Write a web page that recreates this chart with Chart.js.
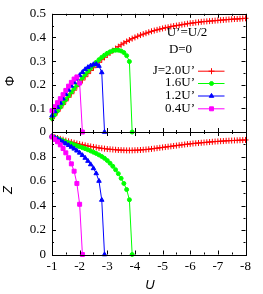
<!DOCTYPE html>
<html>
<head>
<meta charset="utf-8">
<script src="https://cdn.jsdelivr.net/npm/chart.js@4.4.1/dist/chart.umd.min.js"></script>
<style>
  body { margin: 0; background: #fff; }
  #wrap { position: relative; width: 263px; height: 294px; }
  canvas { position: absolute; left: 0; top: 0; }
</style>
</head>
<body>
<div id="wrap">
  <canvas id="phiChart" width="263" height="294"></canvas>
  <canvas id="zChart" width="263" height="294"></canvas>
</div>
<script>
// U grid for each curve
const uRed = [-1, -1.1, -1.2, -1.3, -1.4, -1.5, -1.6, -1.7, -1.8, -1.9,
  -2, -2.1, -2.2, -2.3, -2.4, -2.5, -2.6, -2.7, -2.8, -2.9,
  -3, -3.1, -3.2, -3.3, -3.4, -3.5, -3.6, -3.7, -3.8, -3.9,
  -4, -4.1, -4.2, -4.3, -4.4, -4.5, -4.6, -4.7, -4.8, -4.9,
  -5, -5.1, -5.2, -5.3, -5.4, -5.5, -5.6, -5.7, -5.8, -5.9,
  -6, -6.1, -6.2, -6.3, -6.4, -6.5, -6.6, -6.7, -6.8, -6.9,
  -7, -7.1, -7.2, -7.3, -7.4, -7.5, -7.6, -7.7, -7.8, -7.9, -8];
const uGreen = [-1, -1.1, -1.2, -1.3, -1.4, -1.5, -1.6, -1.7, -1.8, -1.9,
  -2, -2.1, -2.2, -2.3, -2.4, -2.5, -2.6, -2.7, -2.8, -2.9,
  -3, -3.1, -3.2, -3.3, -3.4, -3.5, -3.6, -3.7, -3.8, -3.9];
const uBlue = [-1, -1.1, -1.2, -1.3, -1.4, -1.5, -1.6, -1.7, -1.8, -1.9,
  -2, -2.1, -2.2, -2.3, -2.4, -2.5, -2.6, -2.7, -2.8, -2.9];
const uMagenta = [-1, -1.1, -1.2, -1.3, -1.4, -1.5, -1.6, -1.7, -1.8, -1.9, -2, -2.1];

// order parameter Phi
const phiRed = [0.057, 0.072, 0.087, 0.102, 0.117, 0.132, 0.147, 0.162, 0.177, 0.192,
  0.206, 0.220, 0.234, 0.247, 0.260, 0.272, 0.284, 0.295, 0.306, 0.316,
  0.326, 0.335, 0.344, 0.353, 0.361, 0.369, 0.376, 0.383, 0.389, 0.395,
  0.400, 0.405, 0.410, 0.414, 0.418, 0.422, 0.426, 0.429, 0.432, 0.435,
  0.438, 0.441, 0.443, 0.446, 0.448, 0.450, 0.452, 0.454, 0.456, 0.458,
  0.460, 0.461, 0.463, 0.464, 0.466, 0.467, 0.468, 0.469, 0.470, 0.471,
  0.472, 0.473, 0.474, 0.475, 0.476, 0.477, 0.478, 0.478, 0.479, 0.480, 0.481];
const phiGreen = [0.057, 0.073, 0.089, 0.105, 0.121, 0.137, 0.153, 0.169, 0.184, 0.199,
  0.214, 0.229, 0.243, 0.257, 0.270, 0.283, 0.295, 0.306, 0.316, 0.325,
  0.333, 0.339, 0.344, 0.346, 0.346, 0.343, 0.336, 0.323, 0.298, 0];
const phiBlue = [0.069, 0.087, 0.105, 0.123, 0.141, 0.160, 0.178, 0.195, 0.210, 0.225,
  0.240, 0.253, 0.265, 0.274, 0.281, 0.286, 0.287, 0.279, 0.252, 0];
const phiMagenta = [0.090, 0.107, 0.124, 0.141, 0.158, 0.176, 0.194, 0.210, 0.224, 0.233, 0.207, 0];

// quasiparticle weight Z
const zRed = [0.965, 0.958, 0.951, 0.944, 0.937, 0.930, 0.924, 0.918, 0.912, 0.906,
  0.901, 0.896, 0.891, 0.886, 0.882, 0.878, 0.874, 0.870, 0.867, 0.864,
  0.861, 0.859, 0.857, 0.855, 0.853, 0.852, 0.851, 0.850, 0.850, 0.850,
  0.851, 0.852, 0.853, 0.855, 0.857, 0.859, 0.862, 0.865, 0.868, 0.871,
  0.874, 0.877, 0.880, 0.883, 0.886, 0.889, 0.892, 0.895, 0.898, 0.901,
  0.903, 0.906, 0.908, 0.910, 0.912, 0.914, 0.916, 0.918, 0.920, 0.922,
  0.923, 0.925, 0.926, 0.928, 0.929, 0.930, 0.931, 0.932, 0.933, 0.934, 0.935];
const zGreen = [0.965, 0.956, 0.947, 0.938, 0.929, 0.920, 0.912, 0.904, 0.896, 0.888,
  0.880, 0.872, 0.864, 0.855, 0.845, 0.835, 0.825, 0.813, 0.800, 0.785,
  0.767, 0.745, 0.720, 0.692, 0.660, 0.622, 0.580, 0.530, 0.447, 0];
const zBlue = [0.965, 0.954, 0.943, 0.931, 0.918, 0.905, 0.892, 0.878, 0.863, 0.847,
  0.830, 0.810, 0.788, 0.763, 0.735, 0.703, 0.662, 0.600, 0.445, 0];
const zMagenta = [0.960, 0.940, 0.920, 0.895, 0.865, 0.830, 0.790, 0.740, 0.680, 0.580, 0.410, 0];

const xTicks = [-1, -2, -3, -4, -5, -6, -7, -8];
const legendLabels = ["J=2.0U\u2019", "1.6U\u2019", "1.2U\u2019", "0.4U\u2019"];

const serif = "'Liberation Serif', 'DejaVu Serif', serif";
const sans = "'Liberation Sans', Arial, sans-serif";

const series = [
  { color: "#ff0000", style: "cross", radius: 3, u: uRed },
  { color: "#00ff00", style: "circle", radius: 2, u: uGreen },
  { color: "#0000ff", style: "triangle", radius: 2.6, u: uBlue },
  { color: "#ff00ff", style: "rect", radius: 2.8, u: uMagenta },
];

function pts(u, v) {
  return u.map((x, i) => ({ x: x, y: v[i] }));
}

function makeSets(values) {
  return series.map((s, i) => ({
    label: legendLabels[i],
    data: pts(s.u, values[i]),
    borderColor: s.color,
    backgroundColor: s.color,
    pointBorderColor: s.color,
    pointBackgroundColor: s.color,
    pointStyle: s.style,
    pointRadius: s.radius,
    pointBorderWidth: 1,
    borderWidth: 1,
    tension: 0,
    clip: false,
    order: 4 - i,
  }));
}

// gnuplot-like inward ticks and frame
const frameTicks = {
  id: "frameTicks",
  afterDraw(chart, args, opts) {
    const { ctx, chartArea: a } = chart;
    const x = chart.scales.x, y = chart.scales.y;
    ctx.save();
    ctx.strokeStyle = "#000";
    ctx.lineWidth = 1;
    ctx.beginPath();
    for (let i = 0; i <= 14; i++) {
      const v = -1 - i * 0.5;
      const px = Math.round(x.getPixelForValue(v)) + 0.5;
      const len = i % 2 === 0 ? 4 : 2;
      ctx.moveTo(px, a.bottom); ctx.lineTo(px, a.bottom - len);
      ctx.moveTo(px, a.top); ctx.lineTo(px, a.top + len);
    }
    const n = Math.round((y.max - y.min) / opts.yMinor);
    for (let i = 0; i <= n; i++) {
      const v = y.min + i * opts.yMinor;
      const py = Math.round(y.getPixelForValue(v)) + 0.5;
      const len = i % 2 === 0 ? 4 : 2;
      ctx.moveTo(a.left, py); ctx.lineTo(a.left + len, py);
      ctx.moveTo(a.right, py); ctx.lineTo(a.right - len, py);
    }
    ctx.stroke();
    ctx.strokeRect(Math.round(a.left) + 0.5, Math.round(a.top) + 0.5,
      Math.round(a.right - a.left), Math.round(a.bottom - a.top));
    ctx.restore();
  },
};

// axis titles, legend and notes
const texts = {
  id: "texts",
  afterDraw(chart, args, opts) {
    const ctx = chart.ctx;
    ctx.save();
    ctx.fillStyle = "#000";
    ctx.textBaseline = "middle";
    (opts.titles || []).forEach((t) => {
      ctx.save();
      ctx.font = t.font;
      ctx.textAlign = "center";
      ctx.translate(t.x, t.y);
      if (t.rot) ctx.rotate(-Math.PI / 2);
      ctx.fillText(t.text, 0, 0);
      ctx.restore();
    });
    if (opts.legend) {
      ctx.font = "13px " + serif;
      ctx.textAlign = "center";
      ctx.fillText("U\u2019=U/2", 187, 33);
      ctx.fillText("D=0", 180.5, 49.5);
      const rows = [70.7, 83, 95.5, 108.3];
      series.forEach((s, i) => {
        ctx.textAlign = "right";
        ctx.fillStyle = "#000";
        ctx.fillText(legendLabels[i], 195, rows[i]);
        ctx.strokeStyle = s.color;
        ctx.fillStyle = s.color;
        ctx.lineWidth = 1;
        ctx.beginPath();
        ctx.moveTo(198, rows[i] + 0.5);
        ctx.lineTo(224.5, rows[i] + 0.5);
        ctx.stroke();
        Chart.helpers.drawPoint(ctx, { pointStyle: s.style, radius: s.radius, rotation: 0, borderWidth: 1 }, 211.5, rows[i] + 0.5);
      });
    }
    ctx.restore();
  },
};

function xScale(show) {
  const s = {
    type: "linear",
    min: -8,
    max: -1,
    reverse: true,
    display: show,
    grid: { display: false, drawTicks: false },
    border: { display: false },
    ticks: {
      stepSize: 1,
      autoSkip: false,
      maxRotation: 0,
      padding: 4,
      color: "#000",
      font: { family: serif, size: 13 },
    },
  };
  if (show) s.afterFit = (sc) => { sc.height = 39.5; };
  return s;
}

function yScale(max, step, hideTop) {
  return {
    type: "linear",
    min: 0,
    max: max,
    afterFit: (s) => { s.width = 52; },
    grid: { display: false, drawTicks: false },
    border: { display: false },
    ticks: {
      stepSize: step,
      padding: 6,
      color: "#000",
      font: { family: serif, size: 13 },
      callback: (v) => (hideTop && v >= max) ? "" : String(+v.toFixed(2)),
    },
  };
}

new Chart(document.getElementById("phiChart"), {
  type: "line",
  data: { datasets: makeSets([phiRed, phiGreen, phiBlue, phiMagenta]) },
  options: {
    responsive: false,
    animation: false,
    devicePixelRatio: 1,
    layout: { padding: { left: 0, top: 9.5, right: 17.5, bottom: 162 } },
    scales: { x: xScale(false), y: yScale(0.5, 0.1, false) },
    plugins: {
      legend: { display: false },
      tooltip: { enabled: false },
      frameTicks: { yMinor: 0.05 },
      texts: {
        legend: true,
        titles: [{ text: "\u03a6", x: 10, y: 81, rot: true, font: "13px " + sans }],
      },
    },
  },
  plugins: [frameTicks, texts],
});

new Chart(document.getElementById("zChart"), {
  type: "line",
  data: { datasets: makeSets([zRed, zGreen, zBlue, zMagenta]) },
  options: {
    responsive: false,
    animation: false,
    devicePixelRatio: 1,
    layout: { padding: { left: 0, top: 132, right: 17.5, bottom: 0 } },
    scales: { x: xScale(true), y: yScale(1, 0.2, true) },
    plugins: {
      legend: { display: false },
      tooltip: { enabled: false },
      frameTicks: { yMinor: 0.1 },
      texts: {
        titles: [
          { text: "Z", x: 8, y: 190, rot: true, font: "italic 13px " + sans },
          { text: "U", x: 150, y: 285.5, rot: false, font: "italic 13px " + sans },
        ],
      },
    },
  },
  plugins: [frameTicks, texts],
});
</script>
</body>
</html>
